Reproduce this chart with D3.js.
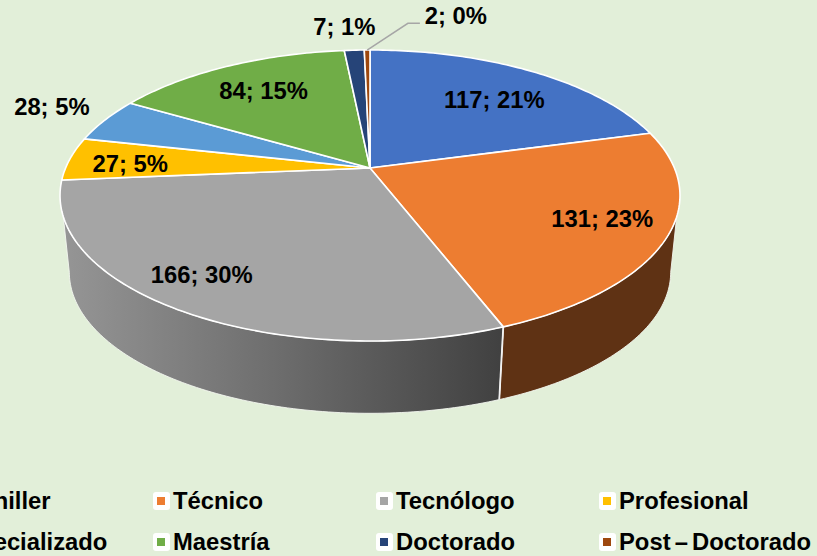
<!DOCTYPE html>
<html><head><meta charset="utf-8">
<script src="https://cdnjs.cloudflare.com/ajax/libs/d3/7.8.5/d3.min.js"></script>
<style>html,body{margin:0;padding:0;background:#e2efd9;overflow:hidden}svg{display:block}
text{font-family:"Liberation Sans",Arial,sans-serif;font-weight:bold;fill:#000}</style>
</head><body><svg id="c" width="817" height="556"></svg>
<script>
// Data
const categories = ["Bachiller","Técnico","Tecnólogo","Profesional","Especializado","Maestría","Doctorado","Post – Doctorado"];
const counts = [117,131,166,27,28,84,7,2];
const percents = [21,23,30,5,5,15,1,0];
// Styles / layout
const colors = ["#4472c4","#ed7d31","#a5a5a5","#ffc000","#5b9bd5","#70ad47","#264478","#9e480e"];
const labelNudges = [[7,2.5],[30,3],[-41,13],[-29,2.5],[-129,-27],[-3,-3],[-14,-55],[88,-66]];

const cx=370, cy=168, R=304.4, S=140.3, K=0.189, DROP=77.5, SHRINK=0.97;
const svg=d3.select("#c");
const deg=d3.scaleLinear().domain([0,360]).range([0,2*Math.PI]);
const TOP_RANGE=[deg(109),deg(251)], BOTTOM_RANGE=[deg(101),deg(259)];

function project(theta,r,bottom){
  const s=bottom?SHRINK:1;
  const u=r*Math.sin(theta), v=-r*Math.cos(theta), w=1-K*v;
  return [cx+s*R*u/w, cy+(bottom?DROP:0)+s*S*v/w];
}
const pie=d3.pie().sort(null).startAngle(0).endAngle(2*Math.PI);
const arcs=pie(counts);
const line=d3.line();
const steps=(a,b)=>d3.range(0,1.0001,1/Math.max(2,Math.ceil((b-a)*60))).map(t=>a+(b-a)*t);

const defs=svg.append("defs");
const grad=defs.append("linearGradient").attr("id","sideGray").attr("gradientUnits","userSpaceOnUse")
  .attr("x1",cx-310).attr("x2",cx+135).attr("y1",0).attr("y2",0);
grad.append("stop").attr("offset",0).attr("stop-color","#969696");
grad.append("stop").attr("offset",0.5).attr("stop-color","#6c6c6c");
grad.append("stop").attr("offset",1).attr("stop-color","#404040");
const wallFill={1:"#5f3214",2:"url(#sideGray)"};

// side walls
const gSide=svg.append("g");
arcs.forEach((d,i)=>{
  const at=Math.max(d.startAngle,TOP_RANGE[0]), bt=Math.min(d.endAngle,TOP_RANGE[1]);
  const ab=Math.max(d.startAngle,BOTTOM_RANGE[0]), bb=Math.min(d.endAngle,BOTTOM_RANGE[1]);
  if(bb<=ab||bt<=at) return;
  const top=steps(at,bt).map(t=>project(t,1,false));
  const bot=steps(ab,bb).reverse().map(t=>project(t,1,true));
  gSide.append("path").attr("d",line(top.concat(bot))+"Z")
    .attr("fill",wallFill[i]).attr("stroke","#f4f7f0").attr("stroke-width",0.9).attr("stroke-linejoin","round");
});
// seam between the two walls
gSide.append("path").attr("d",line([project(arcs[1].endAngle,1,false),project(arcs[1].endAngle,1,true)]))
  .attr("stroke","#f2f2f2").attr("stroke-width",1.8).attr("fill","none");
// top face
const gTop=svg.append("g");
arcs.forEach((d,i)=>{
  const pts=[[cx,cy]].concat(steps(d.startAngle,d.endAngle).map(t=>project(t,1,false)));
  gTop.append("path").attr("d",line(pts)+"Z").attr("fill",colors[i])
    .attr("stroke","#fff").attr("stroke-width",1.6).attr("stroke-linejoin","round");
});
// labels
arcs.forEach((d,i)=>{
  const mid=(d.startAngle+d.endAngle)/2, p=project(mid,0.7,false);
  const lx=p[0]+labelNudges[i][0], ly=p[1]+labelNudges[i][1];
  svg.append("text").attr("x",lx).attr("y",ly).attr("text-anchor","middle").attr("dominant-baseline","central")
    .attr("font-size",23.8).text(`${counts[i]}; ${percents[i]}%`);
  if(i===7){
    svg.append("path").attr("d",line([project(mid,1,false),[lx-48,ly+8],[lx-36,ly+8]]))
      .attr("fill","none").attr("stroke","#a6a6a6").attr("stroke-width",1.5);
  }
});
// legend
const colX=d3.scalePoint().domain([0,1,2,3]).range([-50,619]);
const rowY=d3.scalePoint().domain([0,1]).range([500,541]);
const gLeg=svg.append("g");
categories.forEach((c,i)=>{
  const x=colX(i%4), y=rowY(Math.floor(i/4));
  gLeg.append("rect").attr("x",x-20).attr("y",y-8).attr("width",17).attr("height",18).attr("rx",3).attr("fill","#fff");
  gLeg.append("rect").attr("x",x-16).attr("y",y-3).attr("width",8).attr("height",8).attr("fill",colors[i]);
  gLeg.append("text").attr("x",x).attr("y",y).attr("dominant-baseline","central")
    .attr("font-size",23.8).attr("word-spacing",-2.5).text(c);
});
</script></body></html>
